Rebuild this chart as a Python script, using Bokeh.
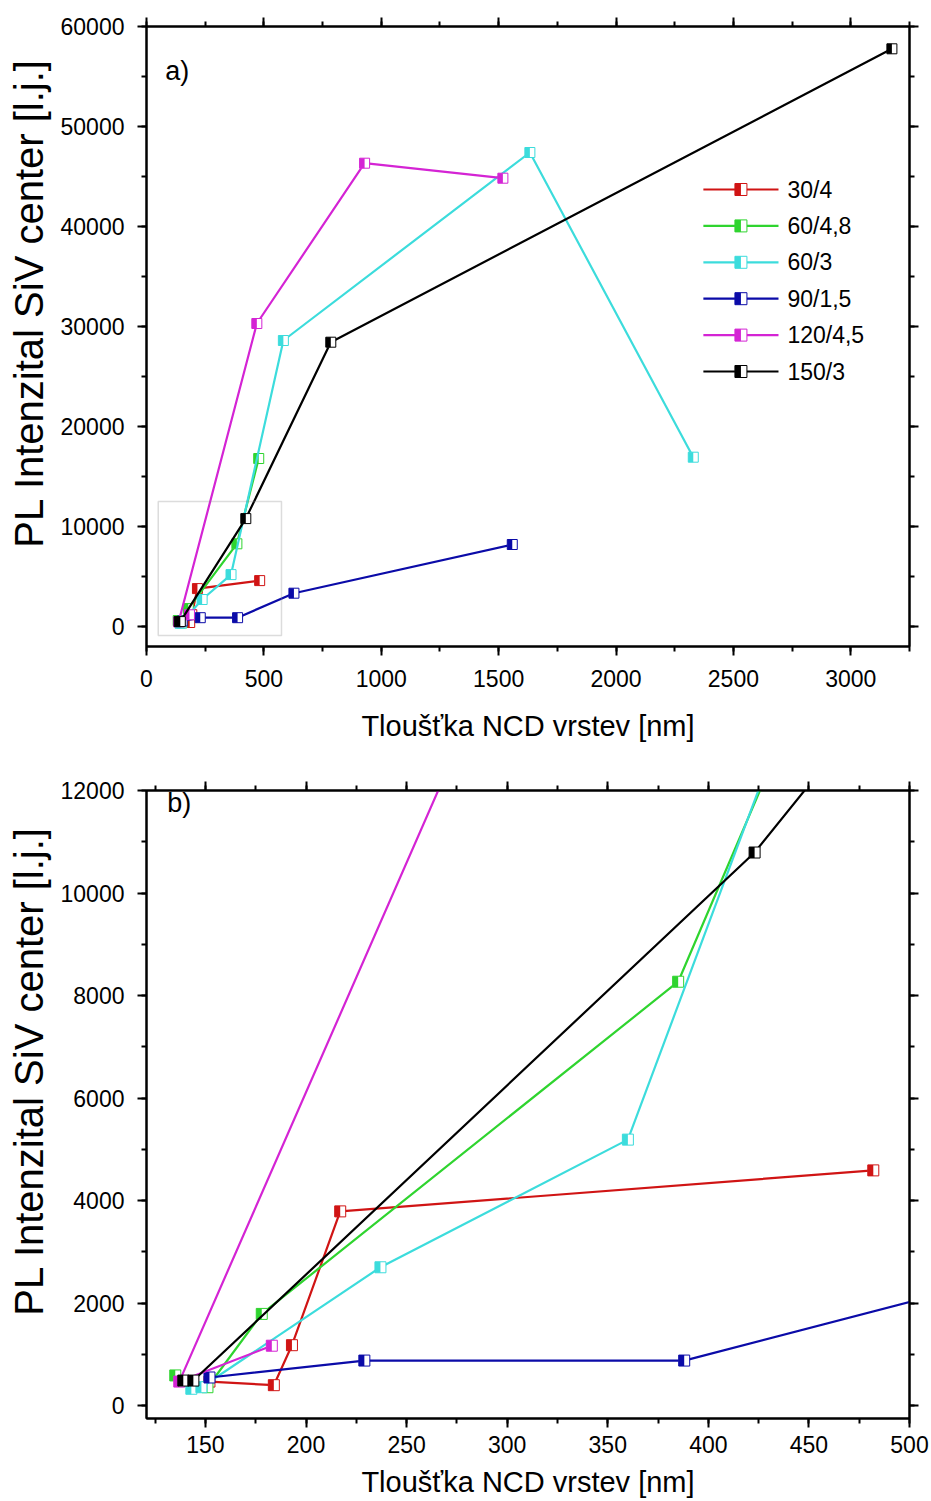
import numpy as np
from bokeh.plotting import figure
from bokeh.layouts import column
from bokeh.models import (LinearAxis, SingleIntervalTicker, CustomJSTickFormatter,
                          BoxAnnotation, Label, Range1d)
from bokeh.core.properties import value
from bokeh.embed import file_html
from bokeh.resources import INLINE

# ---- data: film thickness [nm] vs. PL intensity of SiV centres [a.u.] ----
series_names = ["30/4", "60/4,8", "60/3", "90/1,5", "120/4,5", "150/3"]
series_colors = ["#d01414", "#2fd42f", "#3cdcdc", "#0b0ba8", "#d424d4", "#000000"]

x_30_4 = [152, 184, 193, 217, 482]
y_30_4 = [470, 400, 1180, 3790, 4590]

x_60_48 = [135, 151, 178, 385, 478]
y_60_48 = [590, 360, 1790, 8270, 16800]

x_60_3 = [143, 148, 237, 360, 583, 1633, 2329]
y_60_3 = [330, 360, 2700, 5190, 28600, 47400, 16930]

x_90_15 = [152, 229, 388, 628, 1558]
y_90_15 = [550, 880, 880, 3330, 8200]

x_120_45 = [183, 137, 470, 929, 1518]
y_120_45 = [1170, 470, 30300, 46330, 44830]

x_150_3 = [139, 144, 423, 785, 3175]
y_150_3 = [490, 490, 10790, 28430, 57770]

series_x = [x_30_4, x_60_48, x_60_3, x_90_15, x_120_45, x_150_3]
series_y = [y_30_4, y_60_48, y_60_3, y_90_15, y_120_45, y_150_3]

x_label = "Tloušťka NCD vrstev [nm]"
y_label = "PL Intenzital SiV center [l.j.]"

FONT = "Liberation Sans"


def half_square(p, xs, ys, color, size, px_per_unit):
    """Square marker whose left half is filled, right half left white."""
    xs = np.asarray(xs, dtype=float)
    shift = (size / 4.0) / px_per_unit
    p.scatter(xs, ys, marker="square", size=size, fill_color="white",
              line_color=color, line_width=1)
    p.rect(xs - shift, ys, width=size / 2.0, height=size,
           width_units="screen", height_units="screen",
           fill_color=color, line_color=None)


def style_axis(ax, labels=True):
    ax.major_tick_out = 9
    ax.major_tick_in = 0
    ax.minor_tick_out = 5
    ax.minor_tick_in = 0
    ax.axis_line_width = 2
    ax.major_tick_line_width = 2
    ax.minor_tick_line_width = 2
    ax.axis_line_color = "black"
    ax.major_tick_line_color = "black"
    ax.minor_tick_line_color = "black"
    ax.major_label_text_font = FONT
    ax.major_label_text_font_size = "23px"
    ax.major_label_text_color = "black"
    ax.axis_label_text_font = FONT
    ax.axis_label_text_font_style = "normal"
    ax.axis_label_text_color = "black"
    if not labels:
        ax.formatter = CustomJSTickFormatter(code="return ''")


def make_panel(xr, yr, x_tick, y_tick, fw, fh, borders,
               x_label_standoff, x_title_standoff):
    left, right, top, bottom = borders
    p = figure(frame_width=fw, frame_height=fh,
               x_range=Range1d(*xr), y_range=Range1d(*yr),
               min_border_left=left, min_border_right=right,
               min_border_top=top, min_border_bottom=bottom,
               output_backend="svg", toolbar_location=None,
               background_fill_color="white", border_fill_color="white")
    p.xgrid.visible = False
    p.ygrid.visible = False
    p.outline_line_color = "black"
    p.outline_line_width = 2

    p.xaxis.ticker = SingleIntervalTicker(interval=x_tick, num_minor_ticks=2)
    p.yaxis.ticker = SingleIntervalTicker(interval=y_tick, num_minor_ticks=2)
    for ax in p.xaxis:
        style_axis(ax)
        ax.major_label_standoff = x_label_standoff
        ax.axis_label = x_label
        ax.axis_label_text_font_size = "29px"
        ax.axis_label_standoff = x_title_standoff
    for ax in p.yaxis:
        style_axis(ax)
        ax.major_label_standoff = 13
        # figure spaces lift the title a little above the frame's mid-height
        ax.axis_label = "\u2007\u2007\u2007" + y_label
        ax.axis_label_text_font_size = "40px"
        ax.axis_label_standoff = 7

    top_ax = LinearAxis(ticker=SingleIntervalTicker(interval=x_tick, num_minor_ticks=2))
    style_axis(top_ax, labels=False)
    p.add_layout(top_ax, "above")
    right_ax = LinearAxis(ticker=SingleIntervalTicker(interval=y_tick, num_minor_ticks=2))
    style_axis(right_ax, labels=False)
    p.add_layout(right_ax, "right")
    return p


def draw_series(p, size, px_per_unit):
    for xs, ys, c in zip(series_x, series_y, series_colors):
        p.line(xs, ys, line_color=c, line_width=2.2)
        half_square(p, xs, ys, c, size, px_per_unit)


# ---------------- panel a) : full range ----------------
A_X = (0, 3250)
A_Y = (-2000, 60000)
A_FW, A_FH = 763, 620
pa = make_panel(A_X, A_Y, 500, 10000, A_FW, A_FH, (146, 22, 26, 124), 14, 20)
draw_series(pa, 10, A_FW / (A_X[1] - A_X[0]))

# outline of the zoomed region shown in panel b)
pa.add_layout(BoxAnnotation(left=50, right=575, bottom=-900, top=12500,
                            fill_alpha=0, line_color="#8c8c8c", line_width=1.5))
pa.add_layout(Label(x=80, y=55600, text="a)", text_font=FONT,
                    text_font_size="27px", text_baseline="middle",
                    text_color="black"))

# legend
leg_x0, leg_x1, leg_xm, leg_tx = 2372, 2692, 2532, 2730
leg_y0, leg_dy = 43700, 3640
leg_px = A_FW / (A_X[1] - A_X[0])
for i, (name, c) in enumerate(zip(series_names, series_colors)):
    yy = leg_y0 - i * leg_dy
    pa.line([leg_x0, leg_x1], [yy, yy], line_color=c, line_width=2.2)
    half_square(pa, [leg_xm], [yy], c, 12, leg_px)
    pa.text(x=[leg_tx], y=[yy], text=[name], text_font=value(FONT),
            text_font_size="23px", text_baseline="middle", text_align="left",
            text_color="black")

# ---------------- panel b) : detail of low thickness ----------------
B_X = (120.7, 500.0)
B_Y = (-250, 12000)
B_FW, B_FH = 763, 628
pb = make_panel(B_X, B_Y, 50, 2000, B_FW, B_FH, (146, 22, 20, 83), 8, 10)
draw_series(pb, 11, B_FW / (B_X[1] - B_X[0]))
pb.add_layout(Label(x=131, y=11750, text="b)", text_font=FONT,
                    text_font_size="27px", text_baseline="middle",
                    text_color="black"))

layout = column(pa, pb, spacing=0)
open("out.html", "w").write(file_html(layout, INLINE))
